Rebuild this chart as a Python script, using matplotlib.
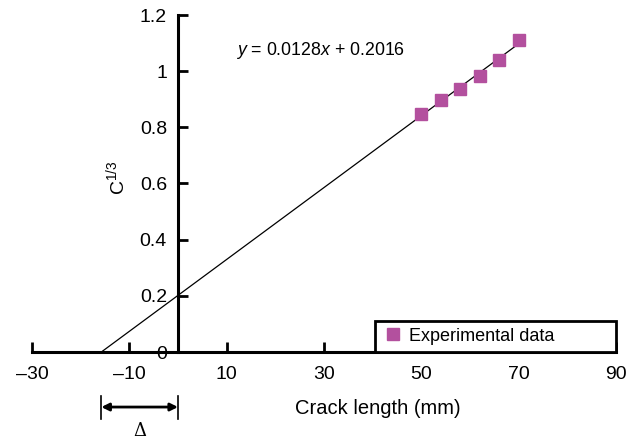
import matplotlib
matplotlib.use("Agg")
import matplotlib.pyplot as plt

# --- données ---
crack_len = [50, 54, 58, 62, 66, 70]
c_third = [0.847, 0.899, 0.938, 0.983, 1.038, 1.110]
slope = 0.0128
intercept = 0.2016
xticks = [-30, -10, 10, 30, 50, 70, 90]
yticks = [0, 0.2, 0.4, 0.6, 0.8, 1, 1.2]
ytick_labels = ['0', '0.2', '0.4', '0.6', '0.8', '1', '1.2']

plt.rcParams['font.family'] = ['Liberation Sans', 'DejaVu Sans']
plt.rcParams['mathtext.fontset'] = 'custom'
plt.rcParams['mathtext.rm'] = 'Liberation Sans'
plt.rcParams['mathtext.it'] = 'Liberation Sans:italic'

fig = plt.figure(figsize=(6.26, 4.4), dpi=100)
ax = fig.add_axes([32 / 626, 1 - 352 / 440, 584 / 626, 337 / 440])

# droite de régression, de l'intersection avec l'axe x jusqu'au dernier point
x0 = -intercept / slope
x_end = crack_len[-1]
ax.plot([x0, x_end], [0, slope * x_end + intercept], color='black', lw=0.9, zorder=2)
ax.plot(crack_len, c_third, 's', color='#b3509e', ms=8, lw=0,
        label='Experimental data', zorder=3)

ax.set_xlim(-30, 90)
ax.set_ylim(0, 1.2)
ax.spines['left'].set_position(('data', 0))
ax.spines['bottom'].set_position(('data', 0))
ax.spines['right'].set_visible(False)
ax.spines['top'].set_visible(False)
for s in ['left', 'bottom']:
    ax.spines[s].set_linewidth(2.2)
ax.set_xticks(xticks)
ax.set_xticklabels([str(v).replace('-', '\u2013') for v in xticks])
ax.set_yticks(yticks)
ax.set_yticklabels(ytick_labels)
ax.tick_params(direction='in', length=7, width=2, labelsize=14)
ax.tick_params(axis='x', pad=10)
ax.tick_params(axis='y', pad=8)

ax.text(41, -0.2, 'Crack length (mm)', ha='center', va='center', fontsize=14.5)
ax.text(-12.8, 0.62, r'$\mathregular{C^{1/3}}$', rotation=90, ha='center',
        va='center', fontsize=14)
ax.text(12, 1.075, r'$y$ = 0.0128$x$ + 0.2016', fontsize=12.8, va='center')

# flèche Delta sous l'axe
ax.annotate('', xy=(x0, -0.196), xytext=(0, -0.196),
            arrowprops=dict(arrowstyle='<|-|>', color='black', lw=2,
                            mutation_scale=11, shrinkA=0, shrinkB=0),
            annotation_clip=False)
for xv in [x0, 0]:
    ax.plot([xv, xv], [-0.157, -0.238], color='black', lw=1.2, clip_on=False)
ax.text(x0 / 2, -0.28, '\u0394', ha='center', va='center', fontsize=13,
        family=['DejaVu Serif'])

leg = ax.legend(loc='lower left', bbox_to_anchor=(0.587, 0, 0.413, 0.1009),
                mode='expand', borderaxespad=0, fancybox=False,
                edgecolor='black', fontsize=13, handletextpad=0.3,
                handlelength=1.2, borderpad=0.4)
leg.get_frame().set_linewidth(2)
leg.get_frame().set_alpha(1)

plt.savefig('out.png', dpi=100)
